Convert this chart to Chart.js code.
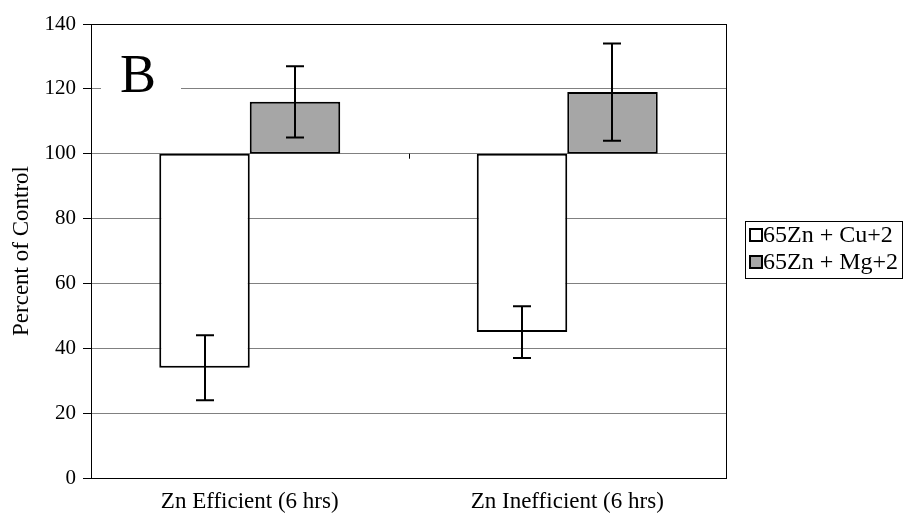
<!DOCTYPE html>
<html>
<head>
<meta charset="utf-8">
<script src="https://cdn.jsdelivr.net/npm/chart.js@4.4.1/dist/chart.umd.min.js"></script>
<style>
  html, body { margin: 0; padding: 0; background: #fff; }
  #wrap { width: 904px; height: 516px; }
</style>
</head>
<body>
<div id="wrap"><canvas id="chart" width="904" height="516"></canvas></div>
<script>
const categories = ["Zn Efficient (6 hrs)", "Zn Inefficient (6 hrs)"];
const seriesNames = ["65Zn + Cu+2", "65Zn + Mg+2"];
const baseline = 100;
const cuValues = [34, 45];
const cuErrLow = [24, 37];
const cuErrHigh = [44, 53];
const mgValues = [116, 119];
const mgErrLow = [105, 104];
const mgErrHigh = [127, 134];
const yTicks = [0, 20, 40, 60, 80, 100, 120, 140];

const serif = "'Liberation Serif', 'Times New Roman', serif";

/* error bars + panel letter + frame + legend */
const extras = {
  id: "extras",
  afterDatasetsDraw(chart) {
    const ctx = chart.ctx;
    const area = chart.chartArea;
    const y = chart.scales.y;

    // frame
    ctx.save();
    ctx.strokeStyle = "#000";
    ctx.lineWidth = 1;
    ctx.strokeRect(area.left + 0.5, area.top + 0.5, area.right - area.left, area.bottom - area.top);

    // small tick between categories on the 100 line
    const mid = Math.round((area.left + area.right) / 2) + 0.5;
    const y100 = y.getPixelForValue(100);
    ctx.beginPath();
    ctx.moveTo(mid, y100); ctx.lineTo(mid, y100 + 5);
    ctx.stroke();

    // error bars
    const errs = [[cuErrLow, cuErrHigh], [mgErrLow, mgErrHigh]];
    ctx.lineWidth = 2;
    errs.forEach((e, di) => {
      chart.getDatasetMeta(di).data.forEach((bar, i) => {
        const x = Math.round(bar.x);
        const yl = y.getPixelForValue(e[0][i]);
        const yh = y.getPixelForValue(e[1][i]);
        ctx.beginPath();
        ctx.moveTo(x, yl); ctx.lineTo(x, yh);
        ctx.moveTo(x - 9, yl); ctx.lineTo(x + 9, yl);
        ctx.moveTo(x - 9, yh); ctx.lineTo(x + 9, yh);
        ctx.stroke();
      });
    });

    // panel letter "B" with white backing over gridline
    ctx.fillStyle = "#fff";
    ctx.fillRect(area.left + 10, y.getPixelForValue(120) - 3, 80, 6);
    ctx.fillStyle = "#000";
    ctx.font = "54px " + serif;
    ctx.textAlign = "left";
    ctx.textBaseline = "alphabetic";
    ctx.fillText("B", area.left + 29, 92);

    // legend
    const lx = 745, ly = 221, lw = 158, lh = 58;
    ctx.lineWidth = 1;
    ctx.strokeStyle = "#000";
    ctx.fillStyle = "#fff";
    ctx.fillRect(lx, ly, lw, lh);
    ctx.strokeRect(lx + 0.5, ly + 0.5, lw - 1, lh - 1);
    ctx.font = "24px " + serif;
    ctx.textBaseline = "middle";
    chart.data.datasets.forEach((ds, i) => {
      const cy = ly + 14 + i * 27;
      ctx.fillStyle = ds.backgroundColor;
      ctx.fillRect(lx + 5, cy - 6, 12, 12);
      ctx.lineWidth = 2;
      ctx.strokeRect(lx + 5, cy - 6, 12, 12);
      ctx.fillStyle = "#000";
      ctx.fillText(ds.label, lx + 18, cy + 1);
    });
    ctx.restore();
  }
};

new Chart(document.getElementById("chart"), {
  type: "bar",
  data: {
    labels: categories,
    datasets: [
      {
        label: seriesNames[0],
        data: cuValues.map(v => [baseline, v]),
        backgroundColor: "#ffffff",
        borderColor: "#000",
        borderWidth: 2,
        borderSkipped: false
      },
      {
        label: seriesNames[1],
        data: mgValues.map(v => [baseline, v]),
        backgroundColor: "#a6a6a6",
        borderColor: "#000",
        borderWidth: 2,
        borderSkipped: false
      }
    ]
  },
  options: {
    responsive: false,
    animation: false,
    layout: { padding: { top: 24, right: 178, left: 0, bottom: 0 } },
    plugins: {
      legend: { display: false },
      tooltip: { enabled: false }
    },
    datasets: {
      bar: { barPercentage: 1, categoryPercentage: 0.57 }
    },
    scales: {
      x: {
        grid: { display: false },
        border: { color: "#000", width: 1 },
        ticks: { color: "#000", font: { family: serif, size: 23 }, padding: 2, maxRotation: 0 },
        afterFit(s) { s.height = 38; }
      },
      y: {
        min: 0,
        max: 140,
        afterBuildTicks(s) { s.ticks = yTicks.map(v => ({ value: v })); },
        grid: { color: "#808080", lineWidth: 1, tickLength: 8, tickColor: "#000" },
        border: { color: "#000", width: 1 },
        ticks: { color: "#000", font: { family: serif, size: 21 }, padding: 7 },
        title: {
          display: true,
          text: "Percent of Control",
          color: "#000",
          font: { family: serif, size: 23 },
          padding: { top: 8, bottom: 6 }
        },
        afterFit(s) { s.width = 91; }
      }
    }
  },
  plugins: [extras]
});
</script>
</body>
</html>
